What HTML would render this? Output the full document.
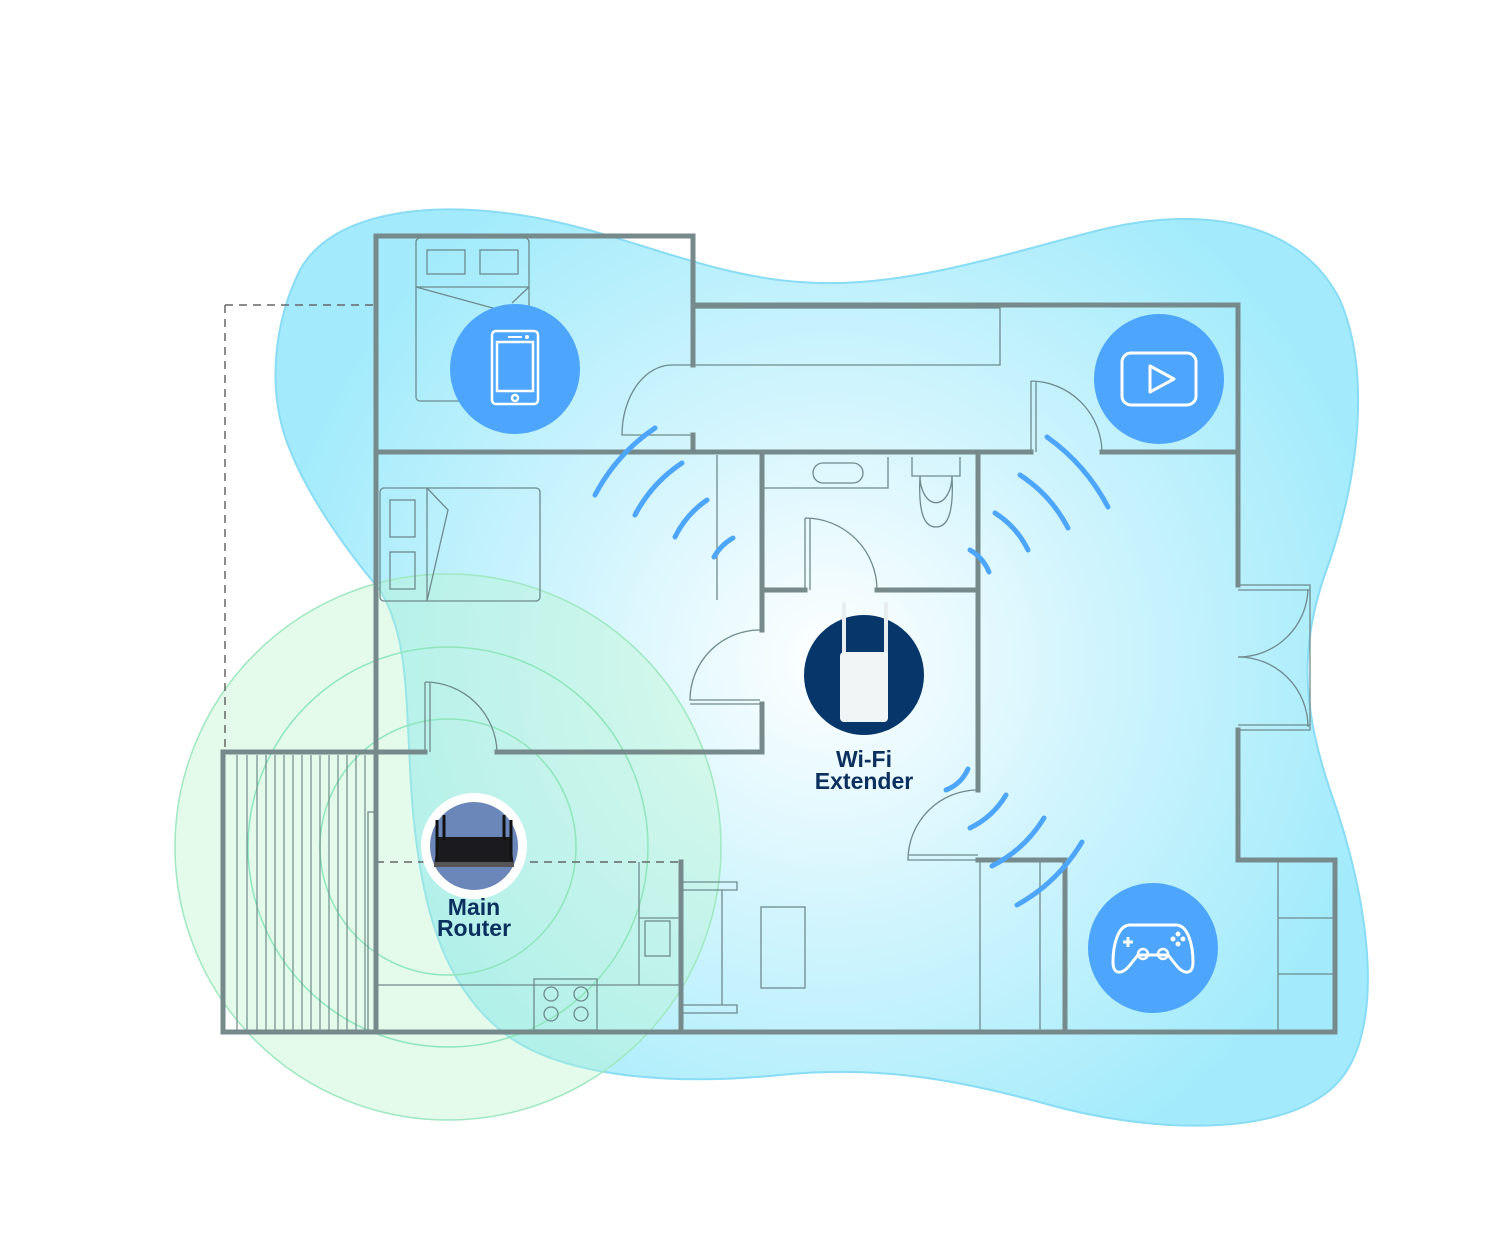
<!DOCTYPE html>
<html><head><meta charset="utf-8"><style>
html,body{margin:0;padding:0;background:#fff;}
svg{display:block;}
text{font-family:"Liberation Sans",sans-serif;font-weight:bold;fill:#0b2f5e;}
</style></head><body>
<svg width="1500" height="1258" viewBox="0 0 1500 1258" xmlns="http://www.w3.org/2000/svg">
<defs>
<radialGradient id="bg" cx="830" cy="660" r="560" gradientUnits="userSpaceOnUse">
<stop offset="0" stop-color="#ffffff"/>
<stop offset="0.45" stop-color="#d3f5fd"/>
<stop offset="1" stop-color="#a3ebfc"/>
</radialGradient>
</defs>
<!-- blue blob -->
<path d="M300,270 C330,215 420,200 520,215 C620,230 700,275 800,282 C900,290 1000,255 1100,230 C1200,205 1300,220 1340,300 C1370,370 1360,470 1330,560 C1300,640 1300,700 1330,790 C1370,900 1390,1040 1330,1090 C1270,1140 1140,1130 1050,1105 C960,1080 880,1065 780,1075 C680,1085 560,1080 500,1030 C440,980 420,900 412,800 C405,700 410,640 380,590 C350,555 310,500 290,450 C265,390 275,320 300,270 Z" fill="url(#bg)" stroke="#88dcf5" stroke-width="2"/>
<!-- green circle on top -->
<circle cx="448" cy="847" r="273" fill="#b8f5cc" fill-opacity="0.38" stroke="#9fe8c0" stroke-width="1.5"/>
<!-- green rings -->
<g fill="none" stroke="#8ee6bb" stroke-width="1.5">
<circle cx="448" cy="847" r="200"/>
<circle cx="448" cy="847" r="128"/>
</g>
<!-- dashed -->
<g stroke="#666" stroke-width="1.5" stroke-dasharray="8,6" fill="none">
<path d="M225,305 H376 M225,305 V752 M376,862 H681"/>
</g>
<!-- thin furniture -->
<g fill="none" stroke="#6f8a8c" stroke-width="1.3">
<rect x="416" y="238" width="113" height="163" rx="4"/>
<rect x="427" y="250" width="38" height="24"/><rect x="480" y="250" width="38" height="24"/>
<path d="M416,287 H529 M416,287 L500,310 M512,303 L529,287"/>
<rect x="380" y="488" width="160" height="113" rx="4"/>
<rect x="390" y="500" width="25" height="37"/><rect x="390" y="552" width="25" height="37"/>
<path d="M427,488 V601 L448,510 L427,488"/>
<path d="M693,308 H1000 V365 H693"/>
<path d="M693,365 H672 A50,70 0 0 0 622,435 H693"/>
<path d="M1031,381 A72,72 0 0 1 1102,452 M1031,381 V452 M1036,381 V452"/>
<path d="M762,488 H888 V457 M823,463 h30 a5,5 0 0 1 0,20 h-30 a5,5 0 0 1 0,-20 Z"/>
<path d="M912,457 V476 H960 V457 M920,476 a15,25 0 0 0 32,0 M920,476 C918,515 925,527 936,527 C947,527 954,515 952,476"/>
<path d="M805,518 V590 M805,518 A72,72 0 0 1 877,590 M810,518 V590"/>
<path d="M717,455 V600"/>
<path d="M760,630 A70,70 0 0 0 690,700 H760 M690,704 H760"/>
<path d="M425,682 V752 M425,682 A72,72 0 0 1 497,752 M430,682 V752"/>
<path d="M978,790 A70,70 0 0 0 908,860 H978 M908,855 H978"/>
<path d="M1238,585 H1310 V730 H1238 M1238,590 H1310 M1238,725 H1310 M1238,657 A70,70 0 0 0 1308,590 M1238,657 A70,70 0 0 1 1308,727"/>
<path d="M1278,862 V1030 M1278,918 H1333 M1278,974 H1333"/>
<path d="M1040,862 V1030 M980,862 V1030"/>
<rect x="761" y="907" width="44" height="81"/>
<path d="M681,882 H737 V890 H681 M681,1005 H737 V1013 H681 M722,890 V1005"/>
<path d="M376,985 H681 M639,862 V985 M639,918 H681"/>
<rect x="645" y="921" width="25" height="35"/>
<rect x="534" y="979" width="63" height="51"/>
<circle cx="551" cy="994" r="7"/><circle cx="581" cy="994" r="7"/><circle cx="551" cy="1014" r="7"/><circle cx="581" cy="1014" r="7"/>
<path d="M376,812 H368 V1030"/>
</g>
<!-- stairs -->
<g stroke="#6f8a8c" stroke-width="1.2">
<path d="M237,755 V1030 M247,755 V1030 M257,755 V1030 M266,755 V1030 M275,755 V1030 M284,755 V1030 M293,755 V1030 M302,755 V1030 M311,755 V1030 M320,755 V1030 M329,755 V1030 M338,755 V1030 M347,755 V1030 M356,755 V1030 M365,755 V1030"/>
</g>
<!-- walls -->
<g fill="none" stroke="#778a8b" stroke-width="5" stroke-linecap="square">
<path d="M376,236 H693 V365"/>
<path d="M376,236 V1032"/>
<path d="M693,305 H1238 V585"/>
<path d="M1238,730 V860 H1335 V1032 H223 V752 H425"/>
<path d="M497,752 H762 V704"/>
<path d="M762,630 V455"/>
<path d="M376,452 H693 M693,435 V452 M693,452 H1031 M1102,452 H1238"/>
<path d="M762,590 H805 M877,590 H978"/>
<path d="M978,455 V790 M978,860 V860 H1065 V1032"/>
<path d="M681,862 V1032"/>
</g>
<!-- wifi arcs -->
<g fill="none" stroke="#4da6fb" stroke-width="5" stroke-linecap="round">
<path d="M655,428 A185,185 0 0 0 595,495"/>
<path d="M682,463 A141,141 0 0 0 635,515"/>
<path d="M707,500 A96,96 0 0 0 675,537"/>
<path d="M733,538 A50,50 0 0 0 714,557"/>
<path d="M1047,437 A200,200 0 0 1 1108,507"/>
<path d="M1020,475 A140,140 0 0 1 1068,528"/>
<path d="M995,513 A90,90 0 0 1 1028,550"/>
<path d="M970,550 A45,45 0 0 1 989,572"/>
<path d="M968,769 A40,40 0 0 1 946,790"/>
<path d="M1006,795 A85,85 0 0 1 970,828"/>
<path d="M1044,818 A130,130 0 0 1 992,866"/>
<path d="M1082,842 A175,175 0 0 1 1017,905"/>
</g>
<!-- device icons -->
<circle cx="515" cy="369" r="65" fill="#4da6fb"/>
<g fill="none" stroke="#fff" stroke-width="2.5">
<rect x="492" y="331" width="46" height="73" rx="4"/>
<rect x="497" y="342" width="36" height="49"/>
<circle cx="515" cy="398" r="3"/>
</g>
<path d="M508,337 H522" stroke="#fff" stroke-width="2"/><circle cx="527" cy="337" r="2" fill="#fff"/>
<circle cx="1159" cy="379" r="65" fill="#4da6fb"/>
<rect x="1122" y="353" width="74" height="52" rx="9" fill="none" stroke="#fff" stroke-width="3"/>
<path d="M1150,366 L1174,379 L1150,392 Z" fill="none" stroke="#fff" stroke-width="3" stroke-linejoin="round"/>
<circle cx="1153" cy="948" r="65" fill="#4da6fb"/>
<path d="M1130,925 H1176 C1188,925 1193,945 1193,962 C1193,975 1184,975 1176,965 L1168,955 H1138 L1130,965 C1122,975 1113,975 1113,962 C1113,945 1118,925 1130,925 Z" fill="none" stroke="#fff" stroke-width="3" stroke-linejoin="round"/>
<circle cx="1143" cy="954" r="5" fill="none" stroke="#fff" stroke-width="2.5"/>
<circle cx="1163" cy="954" r="5" fill="none" stroke="#fff" stroke-width="2.5"/>
<path d="M1128,937 v10 M1123,942 h10" stroke="#fff" stroke-width="3"/>
<g fill="#fff"><circle cx="1178" cy="934" r="2.5"/><circle cx="1173" cy="939" r="2.5"/><circle cx="1183" cy="939" r="2.5"/><circle cx="1178" cy="944" r="2.5"/></g>
<!-- extender -->
<circle cx="864" cy="675" r="60" fill="#06366a"/>
<rect x="842" y="602" width="4" height="60" rx="2" fill="#e8eef0"/>
<rect x="884" y="602" width="4" height="60" rx="2" fill="#e8eef0"/>
<rect x="840" y="652" width="48" height="70" rx="4" fill="#f2f5f6"/>
<text x="864" y="767" font-size="23" text-anchor="middle">Wi-Fi</text>
<text x="864" y="789" font-size="23" text-anchor="middle">Extender</text>
<!-- router -->
<circle cx="474" cy="846" r="53" fill="#fff"/>
<circle cx="474" cy="846" r="44" fill="#6b86b8"/>
<path d="M438,837 H510 L514,866 H434 Z" fill="#1b1b1f"/>
<rect x="434" y="862" width="80" height="5" fill="#555"/>
<g stroke="#111" stroke-width="3"><path d="M437,820 V860 M444,815 V840 M504,815 V840 M511,820 V860"/></g>
<text x="474" y="915" font-size="23" text-anchor="middle">Main</text>
<text x="474" y="936" font-size="23" text-anchor="middle">Router</text>
</svg>
</body></html>
